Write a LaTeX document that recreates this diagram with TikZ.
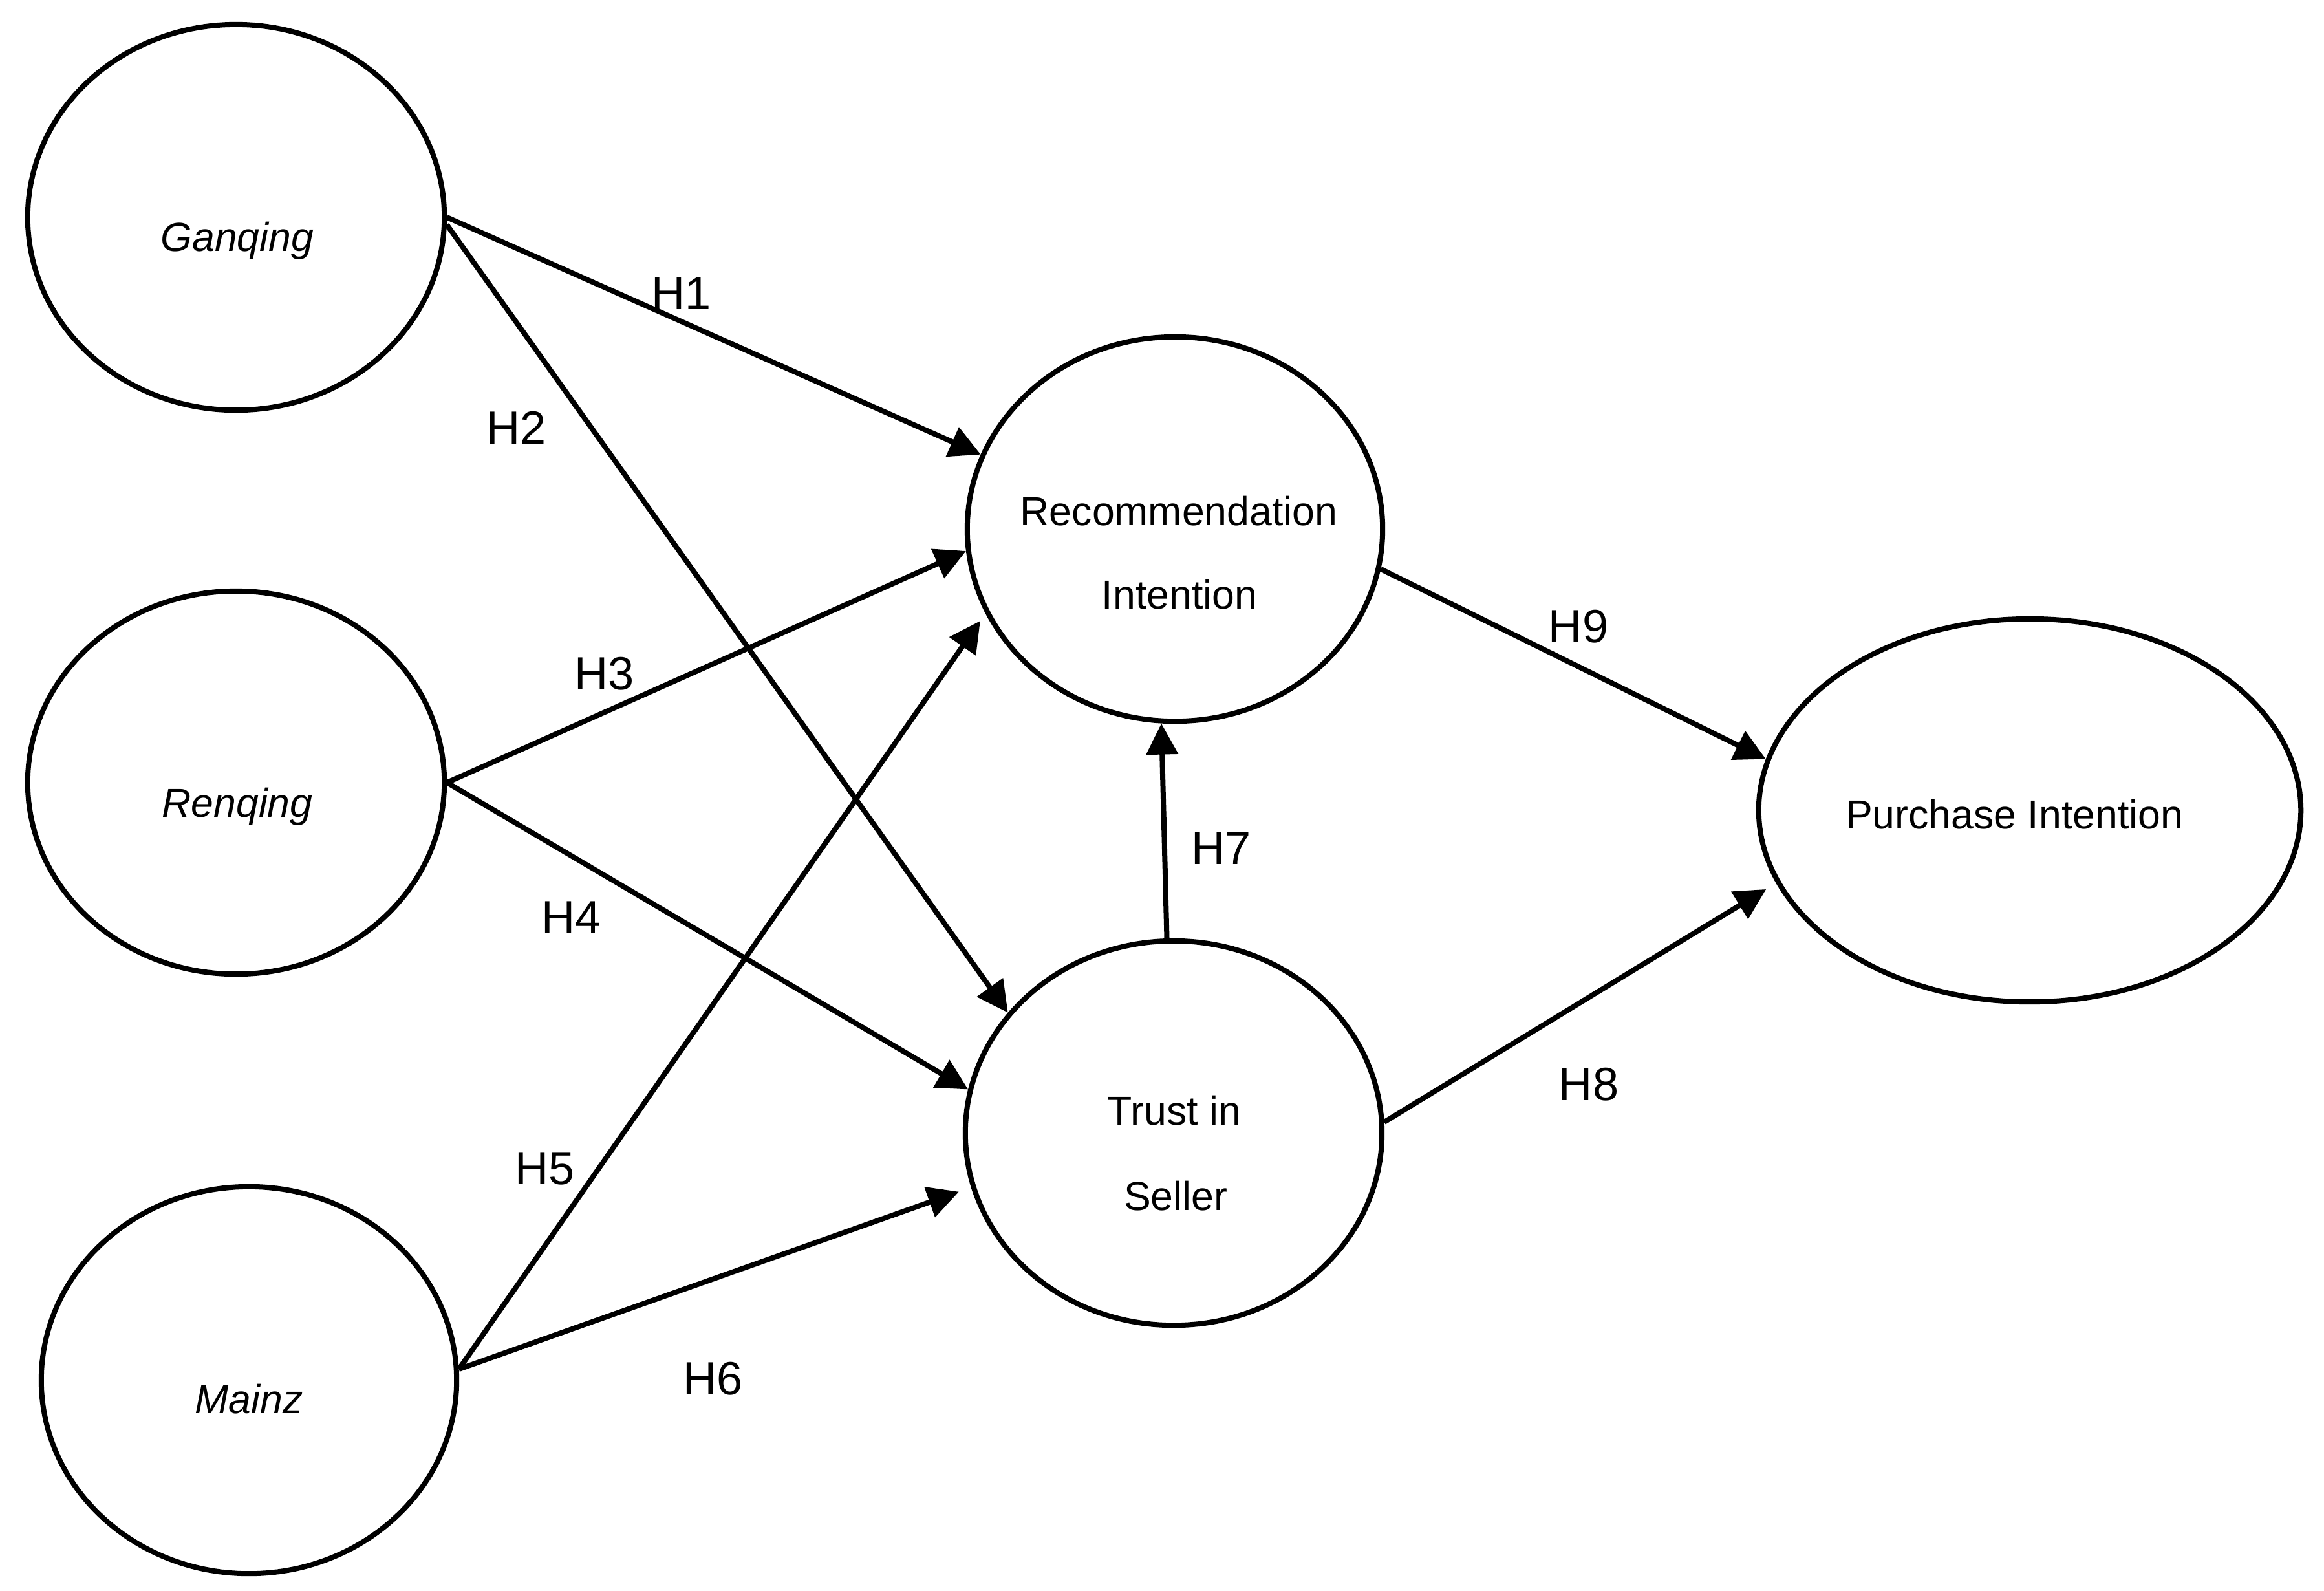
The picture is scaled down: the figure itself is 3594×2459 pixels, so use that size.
\documentclass[tikz,border=0pt]{standalone}
\usepackage{fontspec}
\setmainfont{Liberation Sans}
\usetikzlibrary{shapes.geometric,arrows.meta}
\begin{document}
\begin{tikzpicture}[x=0.01cm,y=-0.01cm,
  construct/.style={draw, ellipse, line width=0.08cm, inner sep=0pt},
  ctext/.style={font=\fontsize{17.8}{20}\selectfont, anchor=base, inner sep=0pt},
  hlab/.style={font=\fontsize{20.5}{24}\selectfont, anchor=base, inner sep=0pt},
  link/.style={line width=0.08cm, -{Triangle[length=0.48cm,width=0.48cm]}}]
\fill[white] (0,0) rectangle (3594,2459);
\useasboundingbox (0,0) rectangle (3594,2459);
% constructs
\node[construct, minimum width=6.44cm, minimum height=5.96cm] (G) at (365,336) {};
\node[construct, minimum width=6.44cm, minimum height=5.92cm] (Ren) at (365,1210) {};
\node[construct, minimum width=6.42cm, minimum height=5.98cm] (M) at (385,2134) {};
\node[construct, minimum width=6.42cm, minimum height=5.94cm] (Rec) at (1817,818) {};
\node[construct, minimum width=6.44cm, minimum height=5.94cm] (T) at (1815,1752) {};
\node[construct, minimum width=8.38cm, minimum height=5.92cm] (P) at (3139,1253) {};
% texts
\node[ctext] (Gt) at (367,388) {\itshape Ganqing};
\node[ctext] (Rent) at (367,1263) {\itshape Renqing};
\node[ctext] (Mt) at (385,2185) {\itshape Mainz};
\node[ctext] (Rect1) at (1823,812) {Recommendation};
\node[ctext] (Rect2) at (1824,941) {Intention};
\node[ctext] (Tt1) at (1816,1739) {Trust in};
\node[ctext] (Tt2) at (1818,1871) {Seller};
\node[ctext] (Pt) at (3115,1281) {Purchase Intention};
% connectors
\draw[link] (G.east) -- (Rec.159);
\draw[link] (G.358) -- (T.144);
\draw[link] (Ren.east) -- (Rec.186);
\draw[link] (Ren.east) -- (T.168);
\draw[link, shorten >=0.14cm] (M.3) -- (Rec.204);
\draw[link, shorten >=0.2cm] (M.3) -- (T.195);
\draw[link] (T.92) -- (Rec.266);
\draw[link, shorten >=0.18cm] (T.3.5) -- (P.196.5);
\draw[link] (Rec.349.3) -- (P.169);
% labels
\node[hlab] (h1) at (1054,478) {H1};
\node[hlab] (h2) at (799,686) {H2};
\node[hlab] (h3) at (935,1066) {H3};
\node[hlab] (h4) at (884,1443) {H4};
\node[hlab] (h5) at (843,1831) {H5};
\node[hlab] (h6) at (1103,2156) {H6};
\node[hlab] (h7) at (1889,1336) {H7};
\node[hlab] (h8) at (2457,1701) {H8};
\node[hlab] (h9) at (2441,993) {H9};
\end{tikzpicture}
\end{document}
